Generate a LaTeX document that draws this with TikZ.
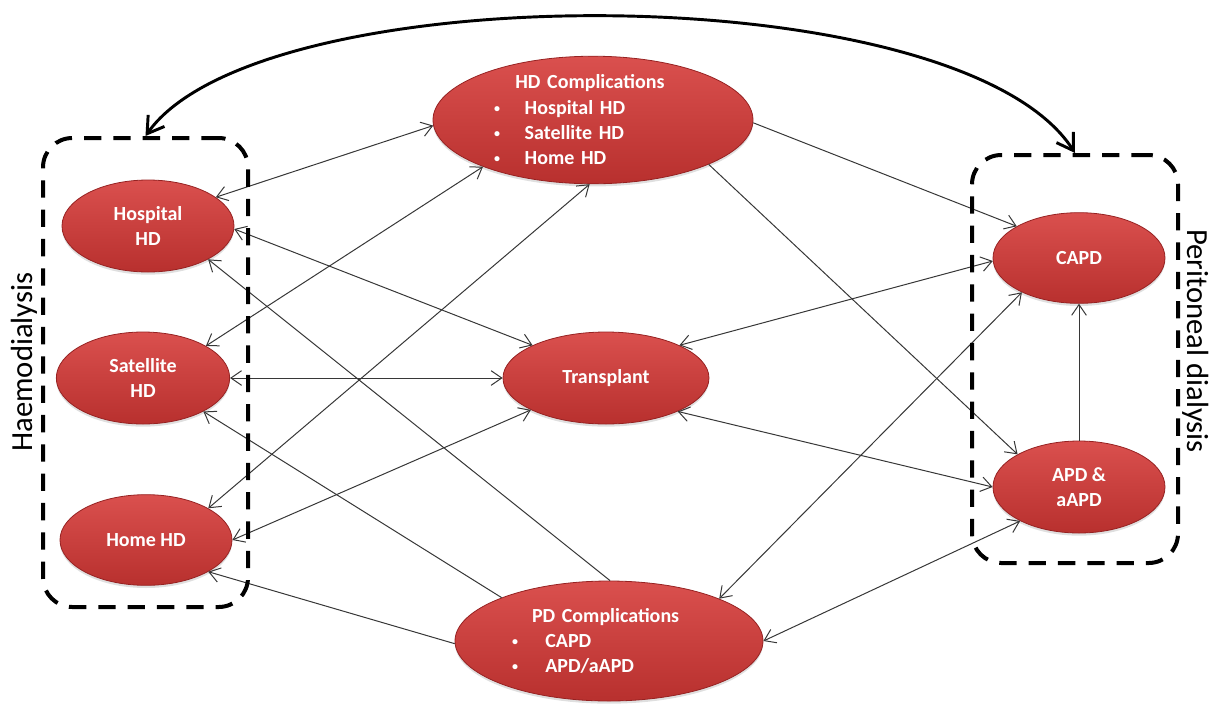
\documentclass[tikz,border=0pt]{standalone}
\usepackage{fontspec}
\setmainfont{Carlito}
\usetikzlibrary{shapes.geometric,arrows.meta,shadows}
\definecolor{bubtop}{RGB}{218,80,78}
\definecolor{bubbot}{RGB}{184,48,46}
\definecolor{bubedge}{RGB}{150,34,34}
\definecolor{linkgray}{RGB}{55,55,55}
\newcommand{\dotitem}[1]{\makebox[#1][l]{\raisebox{1.5pt}{\fontsize{9}{9}\selectfont\textbullet}}}
\begin{document}
\begin{tikzpicture}[x=0.75pt,y=-0.75pt,
    bubble/.style={ellipse,draw=bubedge,line width=0.6pt,top color=bubtop,bottom color=bubbot,
      text=white,font=\fontsize{15}{19}\selectfont\bfseries,align=center,inner sep=0pt,
      drop shadow={opacity=0.25,shadow xshift=0pt,shadow yshift=-2pt}},
    link/.style={draw=linkgray,line width=0.75pt,>={Straight Barb[length=8pt,width=11pt]}},
    group/.style={draw,line width=3pt,dash pattern=on 13pt off 9pt,rounded corners=22pt},
    bigarrow/.style={draw,line width=2.2pt,>={Straight Barb[length=12pt,width=15pt]}},
    side/.style={font=\fontsize{23}{27}\selectfont}]
  \useasboundingbox (0,0) rectangle (1222,704);
  \node[bubble,minimum width=129pt,minimum height=69pt] (hosp) at (148,226) {Hospital\\HD};
  \node[bubble,minimum width=130pt,minimum height=69pt] (sat) at (143,378) {Satellite\\HD};
  \node[bubble,minimum width=129pt,minimum height=68pt] (home) at (146,540) {Home HD};
  \node[bubble,minimum width=240pt,minimum height=94.5pt,text width=148.5pt,align=left] (hdc) at (593,120)
    {\hspace*{16pt}HD Complications\\
     \dotitem{23pt}Hospital HD\\
     \dotitem{23pt}Satellite HD\\
     \dotitem{23pt}Home HD};
  \node[bubble,minimum width=154.5pt,minimum height=69pt] (trans) at (606,378) {Transplant};
  \node[bubble,minimum width=231pt,minimum height=90pt,text width=145.5pt,align=left] (pdc) at (609,641)
    {\hspace*{15pt}PD Complications\\
     \dotitem{25pt}CAPD\\
     \dotitem{25pt}APD/aAPD};
  \node[bubble,minimum width=129pt,minimum height=68pt] (capd) at (1079,258) {CAPD};
  \node[bubble,minimum width=129pt,minimum height=69pt] (apd) at (1079,487) {APD \&\\aAPD};
  \draw[link,<->] (hosp.23) -- (hdc.182);
  \draw[link,<->] (hosp.-2) -- (trans.156);
  \draw[link,->] (pdc.89) -- (hosp.-29);
  \draw[link,<->] (sat.27) -- (hdc.203);
  \draw[link,<->] (sat.0) -- (trans.180);
  \draw[link,->] (pdc.158) -- (sat.-29);
  \draw[link,<->] (home.27) -- (hdc.267);
  \draw[link,<->] (home.0) -- (trans.203);
  \draw[link,->] (pdc.181) -- (home.-27);
  \draw[link,->] (hdc.-1.5) -- (capd.153);
  \draw[link,->] (hdc.-21) -- (apd.152);
  \draw[link,<->] (trans.24) -- (capd.182);
  \draw[link,<->] (trans.-25) -- (apd.180);
  \draw[link,<->] (pdc.21) -- (capd.211);
  \draw[link,<->] (pdc.0) -- (apd.210);
  \draw[link,->] (apd.north) -- (capd.south);
  \node[group,minimum width=153.75pt,minimum height=351.75pt] (hdbox) at (145.5,372.5) {};
  \node[group,minimum width=154.5pt,minimum height=306pt] (pdbox) at (1075,359) {};
  \draw[bigarrow,<->] (hdbox.north) .. controls (260,-26) and (960,-26) .. (pdbox.north);
  \node[side,rotate=90] (hdlabel) at (24,362) {Haemodialysis};
  \node[side,rotate=-90] (pdlabel) at (1196,341) {Peritoneal dialysis};
\end{tikzpicture}
\end{document}
